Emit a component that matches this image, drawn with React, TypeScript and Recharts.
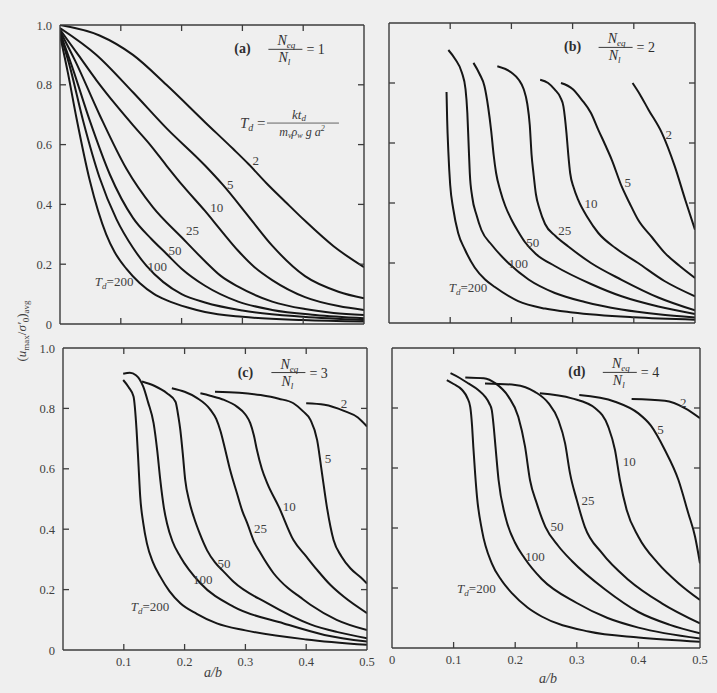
import React from 'react';
import { LineChart, Line, XAxis, YAxis, ReferenceDot } from 'recharts';

const SERIF = '"Liberation Serif", "DejaVu Serif", "Times New Roman", serif';
const INK = '#161616';
const TEXT = '#3f3f3f';
const BG = '#efefef';
const W = 717;
const H = 693;

type Pt = [number, number];

// ---------- tick values ----------
const X_TICKS = [0, 0.1, 0.2, 0.3, 0.4, 0.5];
const Y_TICKS = [0, 0.2, 0.4, 0.6, 0.8, 1.0];
const TD_VALUES = ['2', '5', '10', '25', '50', '100', '200'];

// ---------- (a) N_eq/N_l = 1 ----------
const a2: Pt[] = [[0, 1.0], [0.065, 0.965], [0.12, 0.9], [0.175, 0.8], [0.2385, 0.675], [0.285, 0.585], [0.31, 0.535], [0.34, 0.47], [0.37, 0.41], [0.403, 0.345], [0.45, 0.26], [0.5, 0.19]];
const a5: Pt[] = [[0, 0.99], [0.06, 0.9], [0.12, 0.775], [0.175, 0.655], [0.2385, 0.53], [0.268, 0.465], [0.31, 0.36], [0.349, 0.262], [0.403, 0.16], [0.458, 0.108], [0.5, 0.086]];
const a10: Pt[] = [[0, 0.985], [0.03, 0.9], [0.06, 0.815], [0.093, 0.73], [0.12, 0.665], [0.148, 0.6], [0.175, 0.53], [0.203, 0.46], [0.2385, 0.378], [0.266, 0.31], [0.293, 0.245], [0.32, 0.19], [0.349, 0.147], [0.403, 0.09], [0.458, 0.06], [0.5, 0.047]];
const a25: Pt[] = [[0, 0.98], [0.025, 0.88], [0.065, 0.7], [0.109, 0.52], [0.153, 0.39], [0.2, 0.29], [0.2385, 0.21], [0.265, 0.16], [0.293, 0.125], [0.349, 0.075], [0.403, 0.05], [0.45, 0.037], [0.5, 0.03]];
const a50: Pt[] = [[0, 0.975], [0.02, 0.86], [0.049, 0.68], [0.082, 0.5], [0.12, 0.355], [0.15, 0.285], [0.175, 0.235], [0.2, 0.185], [0.2385, 0.128], [0.293, 0.075], [0.349, 0.047], [0.42, 0.03], [0.5, 0.019]];
const a100: Pt[] = [[0, 0.97], [0.015, 0.87], [0.038, 0.68], [0.065, 0.49], [0.093, 0.35], [0.12, 0.255], [0.142, 0.195], [0.17, 0.14], [0.2, 0.1], [0.2385, 0.072], [0.3, 0.045], [0.4, 0.024], [0.5, 0.013]];
const a200: Pt[] = [[0, 0.965], [0.013, 0.84], [0.027, 0.69], [0.049, 0.48], [0.076, 0.3], [0.09, 0.24], [0.109, 0.185], [0.131, 0.137], [0.155, 0.1], [0.175, 0.08], [0.21, 0.055], [0.2385, 0.04], [0.3, 0.024], [0.4, 0.013], [0.5, 0.008]];

// ---------- (b) N_eq/N_l = 2 ----------
const b2: Pt[] = [[0.398, 0.8], [0.41, 0.762], [0.424, 0.711], [0.446, 0.633], [0.467, 0.522], [0.484, 0.411], [0.5, 0.311]];
const b5: Pt[] = [[0.281, 0.8], [0.3, 0.78], [0.315, 0.744], [0.33, 0.7], [0.342, 0.644], [0.353, 0.595], [0.364, 0.544], [0.38, 0.456], [0.393, 0.4], [0.407, 0.344], [0.43, 0.285], [0.451, 0.233], [0.475, 0.19], [0.5, 0.15]];
const b10: Pt[] = [[0.247, 0.811], [0.26, 0.8], [0.271, 0.778], [0.28, 0.752], [0.285, 0.722], [0.29, 0.633], [0.293, 0.56], [0.296, 0.5], [0.302, 0.45], [0.309, 0.411], [0.325, 0.35], [0.342, 0.3], [0.37, 0.25], [0.407, 0.2], [0.45, 0.14], [0.5, 0.089]];
const b25: Pt[] = [[0.177, 0.856], [0.2, 0.835], [0.212, 0.811], [0.22, 0.78], [0.226, 0.73], [0.23, 0.66], [0.233, 0.56], [0.236, 0.5], [0.24, 0.43], [0.246, 0.38], [0.255, 0.33], [0.272, 0.29], [0.293, 0.255], [0.33, 0.2], [0.38, 0.144], [0.44, 0.085], [0.5, 0.042]];
const b50: Pt[] = [[0.138, 0.867], [0.148, 0.83], [0.156, 0.789], [0.162, 0.72], [0.167, 0.64], [0.171, 0.56], [0.175, 0.5], [0.182, 0.44], [0.19, 0.39], [0.2, 0.345], [0.211, 0.305], [0.222, 0.27], [0.24, 0.23], [0.271, 0.19], [0.33, 0.13], [0.38, 0.089], [0.44, 0.055], [0.5, 0.03]];
const b100: Pt[] = [[0.097, 0.91], [0.108, 0.88], [0.119, 0.835], [0.125, 0.78], [0.128, 0.7], [0.13, 0.6], [0.132, 0.5], [0.136, 0.42], [0.143, 0.36], [0.151, 0.31], [0.168, 0.26], [0.19, 0.21], [0.228, 0.145], [0.271, 0.1], [0.32, 0.07], [0.38, 0.045], [0.44, 0.029], [0.5, 0.018]];
const b200: Pt[] = [[0.094, 0.77], [0.095, 0.68], [0.097, 0.57], [0.1, 0.46], [0.105, 0.38], [0.113, 0.3], [0.124, 0.245], [0.14, 0.185], [0.157, 0.145], [0.173, 0.12], [0.211, 0.073], [0.255, 0.048], [0.3, 0.035], [0.4, 0.019], [0.5, 0.011]];

// ---------- (c) N_eq/N_l = 3 ----------
const c2: Pt[] = [[0.4, 0.817], [0.43, 0.812], [0.462, 0.792], [0.485, 0.77], [0.5, 0.74]];
const c5: Pt[] = [[0.25, 0.855], [0.29, 0.852], [0.325, 0.844], [0.355, 0.832], [0.379, 0.817], [0.395, 0.79], [0.407, 0.762], [0.418, 0.695], [0.426, 0.585], [0.434, 0.474], [0.445, 0.364], [0.458, 0.31], [0.473, 0.27], [0.49, 0.24], [0.5, 0.22]];
const c10: Pt[] = [[0.226, 0.85], [0.242, 0.842], [0.265, 0.828], [0.286, 0.806], [0.3, 0.78], [0.308, 0.751], [0.314, 0.71], [0.319, 0.662], [0.327, 0.6], [0.336, 0.552], [0.355, 0.474], [0.379, 0.364], [0.4, 0.31], [0.418, 0.265], [0.44, 0.215], [0.462, 0.176], [0.5, 0.122]];
const c25: Pt[] = [[0.179, 0.867], [0.2, 0.855], [0.22, 0.835], [0.242, 0.797], [0.252, 0.765], [0.259, 0.725], [0.266, 0.67], [0.275, 0.595], [0.286, 0.52], [0.295, 0.46], [0.303, 0.42], [0.314, 0.36], [0.325, 0.32], [0.346, 0.255], [0.37, 0.205], [0.39, 0.175], [0.407, 0.15], [0.45, 0.1], [0.5, 0.066]];
const c50: Pt[] = [[0.13, 0.889], [0.15, 0.875], [0.171, 0.85], [0.185, 0.822], [0.19, 0.77], [0.193, 0.728], [0.197, 0.65], [0.201, 0.563], [0.208, 0.49], [0.215, 0.441], [0.225, 0.385], [0.237, 0.33], [0.25, 0.29], [0.265, 0.258], [0.281, 0.225], [0.336, 0.155], [0.407, 0.085], [0.45, 0.06], [0.5, 0.039]];
const c100: Pt[] = [[0.099, 0.915], [0.11, 0.918], [0.12, 0.91], [0.132, 0.872], [0.14, 0.82], [0.149, 0.751], [0.155, 0.66], [0.16, 0.563], [0.166, 0.47], [0.171, 0.42], [0.18, 0.36], [0.193, 0.309], [0.226, 0.221], [0.281, 0.143], [0.363, 0.088], [0.43, 0.05], [0.5, 0.028]];
const c200: Pt[] = [[0.099, 0.894], [0.108, 0.87], [0.116, 0.839], [0.121, 0.728], [0.124, 0.62], [0.127, 0.508], [0.132, 0.42], [0.138, 0.353], [0.148, 0.29], [0.16, 0.243], [0.175, 0.195], [0.193, 0.155], [0.22, 0.12], [0.253, 0.088], [0.3, 0.065], [0.4, 0.035], [0.5, 0.017]];

// ---------- (d) N_eq/N_l = 4 ----------
const d2: Pt[] = [[0.389, 0.83], [0.443, 0.824], [0.476, 0.799], [0.5, 0.766]];
const d5: Pt[] = [[0.304, 0.843], [0.362, 0.821], [0.4, 0.782], [0.42, 0.742], [0.443, 0.66], [0.465, 0.56], [0.481, 0.449], [0.492, 0.371], [0.5, 0.282]];
const d10: Pt[] = [[0.24, 0.849], [0.292, 0.832], [0.33, 0.799], [0.351, 0.738], [0.362, 0.66], [0.37, 0.56], [0.381, 0.46], [0.4, 0.371], [0.432, 0.282], [0.465, 0.216], [0.5, 0.16]];
const d25: Pt[] = [[0.151, 0.882], [0.2, 0.877], [0.232, 0.854], [0.254, 0.816], [0.27, 0.76], [0.281, 0.682], [0.289, 0.582], [0.3, 0.493], [0.313, 0.404], [0.341, 0.316], [0.384, 0.227], [0.438, 0.149], [0.5, 0.082]];
const d50: Pt[] = [[0.119, 0.902], [0.149, 0.899], [0.168, 0.882], [0.189, 0.838], [0.205, 0.771], [0.216, 0.671], [0.224, 0.56], [0.235, 0.482], [0.249, 0.404], [0.27, 0.34], [0.292, 0.29], [0.346, 0.195], [0.4, 0.12], [0.45, 0.078], [0.5, 0.049]];
const d100: Pt[] = [[0.095, 0.916], [0.11, 0.9], [0.124, 0.882], [0.14, 0.86], [0.151, 0.838], [0.158, 0.815], [0.162, 0.793], [0.165, 0.74], [0.168, 0.671], [0.173, 0.56], [0.184, 0.438], [0.2, 0.35], [0.215, 0.3], [0.243, 0.23], [0.3, 0.15], [0.35, 0.1], [0.4, 0.068], [0.5, 0.032]];
const d200: Pt[] = [[0.089, 0.893], [0.1, 0.88], [0.114, 0.86], [0.122, 0.835], [0.127, 0.804], [0.13, 0.74], [0.132, 0.671], [0.135, 0.58], [0.138, 0.504], [0.146, 0.393], [0.162, 0.282], [0.178, 0.225], [0.195, 0.182], [0.22, 0.135], [0.243, 0.105], [0.319, 0.055], [0.4, 0.035], [0.5, 0.021]];

// ---------- curve label anchors (data coordinates), in TD_VALUES order ----------
const aTags: Pt[] = [[0.322, 0.548], [0.28, 0.465], [0.258, 0.388], [0.218, 0.314], [0.189, 0.247], [0.16, 0.192], [0.089, 0.141]];
const bTags: Pt[] = [[0.457, 0.628], [0.39, 0.47], [0.33, 0.4], [0.287, 0.31], [0.235, 0.267], [0.211, 0.2], [0.129, 0.117]];
const cTags: Pt[] = [[0.462, 0.817], [0.436, 0.635], [0.372, 0.474], [0.325, 0.403], [0.265, 0.287], [0.23, 0.232], [0.143, 0.143]];
const dTags: Pt[] = [[0.473, 0.818], [0.436, 0.727], [0.385, 0.621], [0.318, 0.493], [0.268, 0.404], [0.232, 0.304], [0.137, 0.199]];

const FRAME = { stroke: '#3c3c3c', strokeWidth: 1.4 };
const TICK_LEN = 6;
const fmt = (v: number) => (v === 0 ? '0' : v.toFixed(1));
const inner = (v: number, lo: number, hi: number) => v > lo + 1e-9 && v < hi - 1e-9;

const makeTick = (side: 'bottom' | 'top' | 'left' | 'right', labels: number[] | null) => (p: any) => {
  const v: number = p.payload.value;
  const x: number = p.x;
  const y: number = p.y;
  const hi = side === 'bottom' || side === 'top' ? 0.5 : 1;
  const parts: React.ReactNode[] = [];
  if (inner(v, 0, hi)) {
    if (side === 'bottom') parts.push(<line key="l" x1={x} x2={x} y1={y} y2={y - TICK_LEN} stroke="#3c3c3c" strokeWidth={1.3} />);
    if (side === 'top') parts.push(<line key="l" x1={x} x2={x} y1={y} y2={y + TICK_LEN} stroke="#3c3c3c" strokeWidth={1.3} />);
    if (side === 'left') parts.push(<line key="l" x1={x} x2={x + TICK_LEN} y1={y} y2={y} stroke="#3c3c3c" strokeWidth={1.3} />);
    if (side === 'right') parts.push(<line key="l" x1={x} x2={x - TICK_LEN} y1={y} y2={y} stroke="#3c3c3c" strokeWidth={1.3} />);
  }
  if (labels && labels.some((l) => Math.abs(l - v) < 1e-9)) {
    if (side === 'bottom')
      parts.push(
        <text key="t" x={x} y={y + 16} textAnchor="middle" fontFamily={SERIF} fontSize={12.5} fill={TEXT}>
          {fmt(v)}
        </text>
      );
    if (side === 'left')
      parts.push(
        <text key="t" x={x - 8} y={y + 4.5} textAnchor="end" fontFamily={SERIF} fontSize={12.5} fill={TEXT}>
          {fmt(v)}
        </text>
      );
  }
  return <g>{parts}</g>;
};

const CurveTag = ({ cx, cy, text, td }: { cx: number; cy: number; text: string; td: boolean }) =>
  td ? (
    <text x={cx} y={cy + 4.5} textAnchor="middle" fontFamily={SERIF} fontSize={13} fill={TEXT}>
      <tspan fontStyle="italic">T</tspan>
      <tspan fontSize={9} dy={3} fontStyle="italic">d</tspan>
      <tspan dy={-3}>{'=' + text}</tspan>
    </text>
  ) : (
    <text x={cx} y={cy + 4.5} textAnchor="middle" fontFamily={SERIF} fontSize={13} fill={TEXT}>
      {text}
    </text>
  );

const PanelTitle = ({ cx, cy, tag, n }: { cx: number; cy: number; tag: string; n: string }) => (
  <g fontFamily={SERIF} fill="#2e2e2e">
    <text x={cx} y={cy + 5} textAnchor="middle" fontSize={14} fontWeight="bold">
      {'(' + tag + ')'}
    </text>
    <text x={cx + 44} y={cy - 3} textAnchor="middle" fontSize={14} fontStyle="italic">
      N<tspan fontSize={9} dy={3}>eq</tspan>
    </text>
    <line x1={cx + 26} x2={cx + 60} y1={cy + 1} y2={cy + 1} stroke="#3a3a3a" strokeWidth={1} />
    <text x={cx + 42} y={cy + 14} textAnchor="middle" fontSize={14} fontStyle="italic">
      N<tspan fontSize={9} dy={3}>l</tspan>
    </text>
    <text x={cx + 64} y={cy + 6} fontSize={14}>
      {'= ' + n}
    </text>
  </g>
);

const Formula = ({ cx, cy }: { cx: number; cy: number }) => (
  <g fontFamily={SERIF} fill="#3a3a3a" fontStyle="italic">
    <text x={cx} y={cy + 5} fontSize={15}>
      T<tspan fontSize={10} dy={3}>d</tspan>
      <tspan dy={-3} fontStyle="normal">{' ='}</tspan>
    </text>
    <line x1={cx + 27} x2={cx + 99} y1={cy} y2={cy} stroke="#555" strokeWidth={0.9} />
    <text x={cx + 59} y={cy - 4} textAnchor="middle" fontSize={13}>
      kt<tspan fontSize={9} dy={2}>d</tspan>
    </text>
    <text x={cx + 62} y={cy + 13} textAnchor="middle" fontSize={12}>
      m<tspan fontSize={8} dy={2}>v</tspan>
      <tspan dy={-2}>ρ</tspan>
      <tspan fontSize={8} dy={2}>w</tspan>
      <tspan dy={-2}>{' g  a'}</tspan>
      <tspan fontSize={8} dy={-5}>2</tspan>
    </text>
  </g>
);

type PanelCfg = {
  key: string;
  L: number;
  R: number;
  T: number;
  B: number;
  n: string;
  curves: Pt[][];
  tags: Pt[];
  yLabels: number[] | null;
  xLabels: number[] | null;
  formula: boolean;
};

const PANELS: PanelCfg[] = [
  { key: 'a', L: 60, R: 364, T: 25, B: 324, n: '1', curves: [a2, a5, a10, a25, a50, a100, a200], tags: aTags, yLabels: Y_TICKS, xLabels: null, formula: true },
  { key: 'b', L: 389, R: 695, T: 23, B: 323, n: '2', curves: [b2, b5, b10, b25, b50, b100, b200], tags: bTags, yLabels: null, xLabels: null, formula: false },
  { key: 'c', L: 63, R: 367, T: 348, B: 650, n: '3', curves: [c2, c5, c10, c25, c50, c100, c200], tags: cTags, yLabels: Y_TICKS, xLabels: [0.1, 0.2, 0.3, 0.4, 0.5], formula: false },
  { key: 'd', L: 392, R: 700, T: 348, B: 648, n: '4', curves: [d2, d5, d10, d25, d50, d100, d200], tags: dTags, yLabels: null, xLabels: X_TICKS, formula: false },
];

// axes are 1px thick so that they are drawn; margins compensate for it
const AX = 1;

const Panel = ({ cfg }: { cfg: PanelCfg }) => (
  <div style={{ position: 'absolute', left: 0, top: 0 }}>
    <LineChart width={W} height={H} margin={{ left: cfg.L - AX, right: W - cfg.R - AX, top: cfg.T - AX, bottom: H - cfg.B - AX }}>
      <XAxis xAxisId="x" type="number" dataKey="x" domain={[0, 0.5]} ticks={X_TICKS} interval={0} height={AX} tickSize={0} tickMargin={0} tickLine={false} axisLine={FRAME} tick={makeTick('bottom', cfg.xLabels)} allowDataOverflow />
      <XAxis xAxisId="xt" orientation="top" type="number" dataKey="x" domain={[0, 0.5]} ticks={X_TICKS} interval={0} height={AX} tickSize={0} tickMargin={0} tickLine={false} axisLine={FRAME} tick={makeTick('top', null)} allowDataOverflow />
      <YAxis yAxisId="y" type="number" domain={[0, 1]} ticks={Y_TICKS} interval={0} width={AX} tickSize={0} tickMargin={0} tickLine={false} axisLine={FRAME} tick={makeTick('left', cfg.yLabels)} allowDataOverflow />
      <YAxis yAxisId="yr" orientation="right" type="number" domain={[0, 1]} ticks={Y_TICKS} interval={0} width={AX} tickSize={0} tickMargin={0} tickLine={false} axisLine={FRAME} tick={makeTick('right', null)} allowDataOverflow />
      {cfg.curves.map((pts, i) => (
        <Line
          key={cfg.key + i}
          xAxisId="x"
          yAxisId="y"
          data={pts.map(([x, y]) => ({ x, y }))}
          dataKey="y"
          type="monotone"
          dot={false}
          activeDot={false}
          stroke={INK}
          strokeWidth={2}
          isAnimationActive={false}
        />
      ))}
      {cfg.tags.map(([tx, ty], i) => (
        <ReferenceDot
          key={'tag' + i}
          xAxisId="x"
          yAxisId="y"
          x={tx}
          y={ty}
          r={1}
          ifOverflow="visible"
          shape={(p: any) => <CurveTag cx={p.cx} cy={p.cy} text={TD_VALUES[i]} td={i === TD_VALUES.length - 1} />}
        />
      ))}
      <ReferenceDot xAxisId="x" yAxisId="y" x={0.3} y={0.922} r={1} ifOverflow="visible" shape={(p: any) => <PanelTitle cx={p.cx} cy={p.cy} tag={cfg.key} n={cfg.n} />} />
      {cfg.formula && (
        <ReferenceDot xAxisId="x" yAxisId="y" x={0.296} y={0.672} r={1} ifOverflow="visible" shape={(p: any) => <Formula cx={p.cx} cy={p.cy} />} />
      )}
    </LineChart>
  </div>
);

export default function App() {
  return (
    <div style={{ position: 'absolute', left: 0, top: 0, width: W, height: H, background: BG, overflow: 'hidden' }}>
      {PANELS.map((cfg) => (
        <Panel key={cfg.key} cfg={cfg} />
      ))}
      <svg width={W} height={H} style={{ position: 'absolute', left: 0, top: 0, pointerEvents: 'none' }}>
        <text transform="rotate(-90 22 331)" x={22} y={335} textAnchor="middle" fontFamily={SERIF} fontSize={13} fill={TEXT}>
          (<tspan fontStyle="italic">u</tspan>
          <tspan fontSize={9} dy={3}>max</tspan>
          <tspan dy={-3}>/</tspan>
          <tspan fontStyle="italic">σ′</tspan>
          <tspan fontSize={9} dy={3}>0</tspan>
          <tspan dy={-3}>)</tspan>
          <tspan fontSize={9} dy={3}>avg</tspan>
        </text>
        <text x={213} y={677} textAnchor="middle" fontFamily={SERIF} fontSize={14} fontStyle="italic" fill={TEXT}>
          a/b
        </text>
        <text x={548} y={683} textAnchor="middle" fontFamily={SERIF} fontSize={14} fontStyle="italic" fill={TEXT}>
          a/b
        </text>
      </svg>
    </div>
  );
}
